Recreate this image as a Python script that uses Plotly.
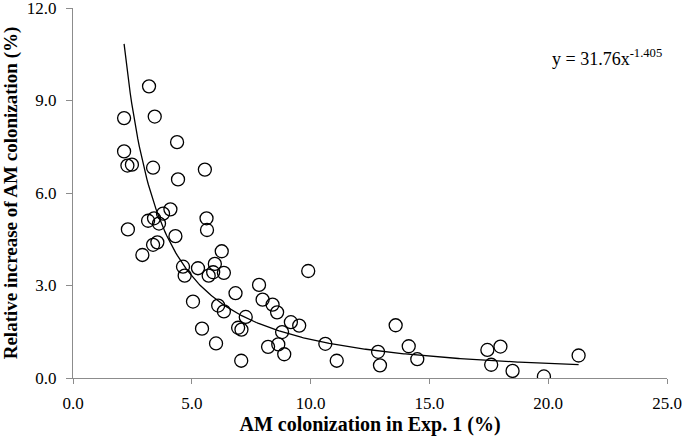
import numpy as np
import plotly.graph_objects as go

# Observed data points (AM colonization in Exp. 1 vs relative increase)
am_colonization = [
    3.20, 2.15, 3.44, 4.38, 2.15, 2.29, 2.48, 3.37, 5.55, 4.42,
    4.10, 3.79, 3.41, 3.16, 3.62, 5.62, 5.64, 2.31, 4.31, 3.37,
    3.55, 2.92, 6.26, 4.63, 4.70, 5.26, 5.97, 5.90, 5.71, 6.35,
    7.83, 7.98, 6.84, 5.05, 6.11, 6.35, 7.27, 5.43, 6.95, 7.09,
    6.02, 7.08, 9.90, 8.40, 8.59, 9.17, 9.52, 8.80, 10.62, 8.21,
    8.64, 8.89, 11.10, 13.58, 14.13, 12.84, 14.49, 12.92, 17.44, 17.99,
    17.60, 18.50, 19.82, 21.28,
]
relative_increase = [
    9.46, 8.43, 8.48, 7.65, 7.35, 6.89, 6.92, 6.82, 6.76, 6.44,
    5.47, 5.33, 5.18, 5.10, 5.01, 5.18, 4.80, 4.82, 4.60, 4.32,
    4.40, 3.99, 4.11, 3.61, 3.32, 3.56, 3.70, 3.43, 3.32, 3.41,
    3.02, 2.54, 2.75, 2.48, 2.35, 2.16, 1.98, 1.60, 1.63, 1.57,
    1.12, 0.56, 3.47, 2.38, 2.13, 1.81, 1.70, 1.49, 1.11, 1.01,
    1.09, 0.77, 0.56, 1.71, 1.03, 0.85, 0.61, 0.41, 0.91, 1.02,
    0.43, 0.23, 0.05, 0.73,
]

# Power trendline as printed on the chart
coef_a = 31.76
coef_b = -1.405
x_tick_vals = [0, 5, 10, 15, 20, 25]
y_tick_vals = [0, 3, 6, 9, 12]

fit_x = np.linspace(min(am_colonization), max(am_colonization), 300)
fit_y = coef_a * fit_x ** coef_b

serif = "Liberation Serif"
axis_grey = "#8c8c8c"

fig = go.Figure()
fig.add_trace(go.Scatter(
    x=fit_x, y=fit_y, mode="lines",
    line=dict(color="black", width=1.3),
    hoverinfo="skip", showlegend=False,
))
fig.add_trace(go.Scatter(
    x=am_colonization, y=relative_increase, mode="markers",
    marker=dict(symbol="circle-open", size=13, color="black",
                line=dict(color="black", width=1.3)),
    showlegend=False,
))

fig.add_annotation(
    x=0.995, y=0.865, xref="paper", yref="paper",
    xanchor="right", yanchor="middle",
    text="y = 31.76x<sup>-1.405</sup>", showarrow=False,
    font=dict(family=serif, size=18, color="black"),
)

fig.update_layout(
    width=685, height=440,
    margin=dict(l=73, r=18, t=8, b=62, autoexpand=False),
    paper_bgcolor="white", plot_bgcolor="white",
    font=dict(family=serif, color="black"),
)
fig.update_xaxes(
    range=[0, 25], tickvals=x_tick_vals,
    ticktext=[f"{v:.1f}" for v in x_tick_vals],
    showgrid=False, zeroline=False, automargin=False,
    showline=True, linecolor=axis_grey, linewidth=1,
    ticks="outside", ticklen=5, tickcolor=axis_grey,
    ticklabeloverflow="allow", ticklabelstandoff=5,
    tickfont=dict(family=serif, size=17, color="black"),
    title=dict(text="<b>AM colonization in Exp. 1 (%)</b>",
               font=dict(family=serif, size=20, color="black"), standoff=4),
)
fig.update_yaxes(
    range=[0, 12], tickvals=y_tick_vals,
    ticktext=[f"{v:.1f}" for v in y_tick_vals],
    showgrid=False, zeroline=False, automargin=False,
    showline=True, linecolor=axis_grey, linewidth=1,
    ticks="outside", ticklen=6, tickcolor=axis_grey,
    ticklabeloverflow="allow", ticklabelstandoff=6,
    tickfont=dict(family=serif, size=17, color="black"),
    title=dict(text="<b>Relative increase of AM colonization (%)</b>",
               font=dict(family=serif, size=19, color="black"), standoff=4),
)

fig.write_html(
    "out.html",
    config={"displayModeBar": False},
    post_script="document.body.style.margin='0';document.body.style.overflow='hidden';",
)
